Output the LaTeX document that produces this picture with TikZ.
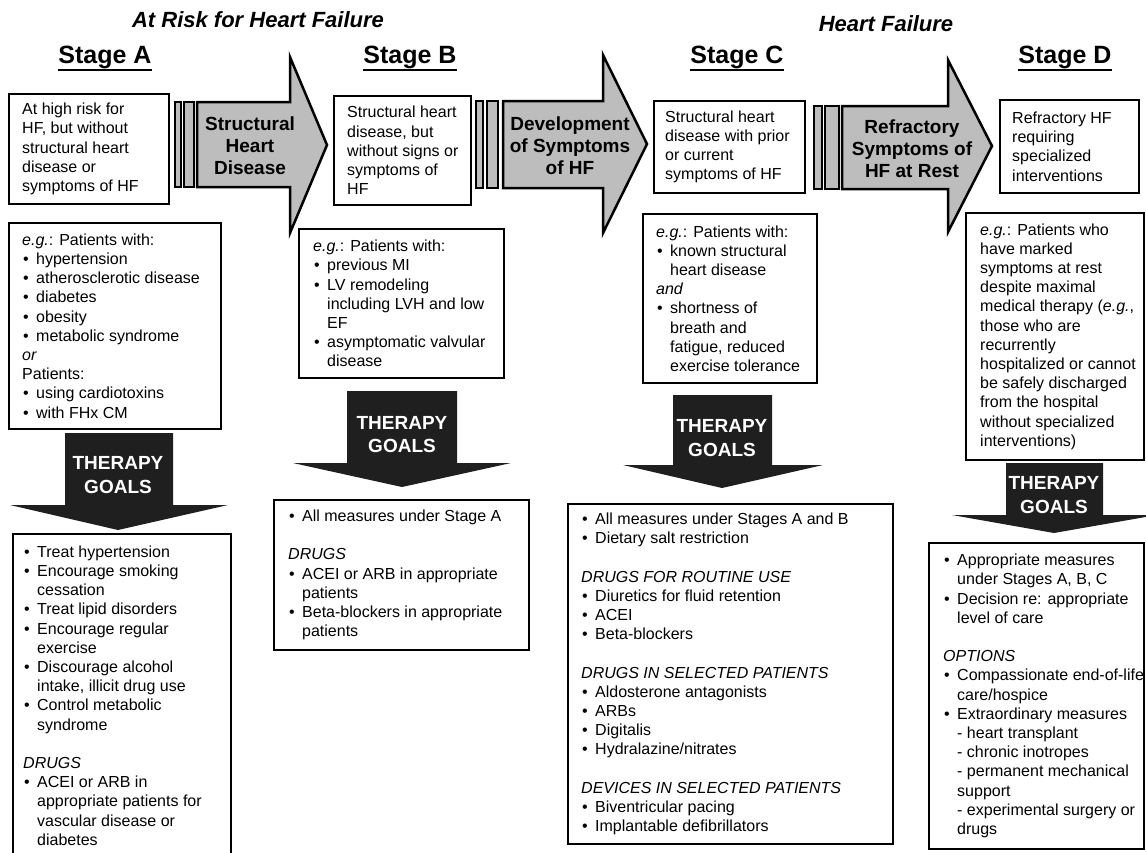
\documentclass[tikz,border=0pt]{standalone}
\usepackage{fontspec}
\setmainfont{Liberation Sans}
\definecolor{arrgray}{gray}{0.74}
\definecolor{goaldark}{gray}{0.12}
\newcommand{\bul}{\makebox[14pt][l]{\hspace{1pt}\textbullet}}
\newcommand{\indt}{\hspace*{14pt}}
\begin{document}
\begin{tikzpicture}[x=1pt,y=-1pt,
  body/.style={font=\fontsize{16}{19.2}\selectfont},
  box/.style={draw,line width=2pt,fill=white,inner sep=0pt,anchor=north west},
  intxt/.style={body,anchor=west,align=left,inner sep=0pt},
  stage/.style={font=\fontsize{25}{30}\selectfont\bfseries,anchor=base,inner sep=0pt},
  group/.style={font=\fontsize{22}{26}\selectfont\bfseries\itshape,anchor=base},
  arrtxt/.style={font=\fontsize{19}{22}\selectfont\bfseries,align=center},
  goaltxt/.style={font=\fontsize{19}{23.5}\selectfont\bfseries,align=center,text=white}]
\path[use as bounding box,fill=white] (0,0) rectangle (1146,852);
% sede sipky mezi stadii: dve listy + sipka
\foreach \pa/\pb/\pc/\pd/\s/\h/\tip/\yt/\yb/\ht/\hb in {175/181/184/194/197/290/327/102/187/57/233,
    476/483/487/498/503/603/647/101/188/55/233, 814/822/825/839/842/948/992/106/189/60/232} {
  \draw[line width=2pt,fill=arrgray] (\pa,\yt) rectangle (\pb,\yb);
  \draw[line width=2pt,fill=arrgray] (\pc,\yt) rectangle (\pd,\yb);
  \draw[line width=2.5pt,fill=arrgray] (\s,\yt) -- (\h,\yt) -- (\h,\ht) -- (\tip,{(\ht+\hb)/2})
    -- (\h,\hb) -- (\h,\yb) -- (\s,\yb) -- cycle;
}
\node[arrtxt] (sipAB) at (250,146) {Structural\\Heart\\Disease};
\node[arrtxt] (sipBC) at (570,146) {Development\\of Symptoms\\of HF};
\node[arrtxt] (sipCD) at (912,149) {Refractory\\Symptoms of\\HF at Rest};
% tmave sipky THERAPY GOALS
\foreach \sl/\sr/\st/\hy/\hl/\hr/\tx/\ty in {65/173/433/505/10/228/118/530, 347/457/391/463/293/511/402/487,
    673/772/395/465/623/823/722/488, 1006/1103/463/515/952/1157/1054/533}
  \fill[goaldark] (\sl,\st) -- (\sr,\st) -- (\sr,\hy) -- (\hr,\hy) -- (\tx,\ty) -- (\hl,\hy) -- (\sl,\hy) -- cycle;
\node[goaltxt] (goalA) at (118,475) {THERAPY\\GOALS};
\node[goaltxt] (goalB) at (402,434.5) {THERAPY\\GOALS};
\node[goaltxt] (goalC) at (722,438) {THERAPY\\GOALS};
\node[goaltxt] (goalD) at (1054,495) {THERAPY\\GOALS};
% ramecky
\foreach \n/\xa/\ya/\xb/\yb in {topA/8/93/168/203, topB/333/95/470/204, topC/653/100/804/192, topD/999/99/1138/192,
    egA/8/222/220/428, egB/298/228/503/377, egC/642/213/816/382, egD/965/212/1143/459,
    thA/12/533/230/856, thB/273/499/528/649, thC/567/503/892/843, thD/928/542/1143/848}
  \node[box,minimum width={\xb-\xa},minimum height={\yb-\ya}] (\n) at (\xa,\ya) {};
% texty v rameckach
\node[intxt] (topAt) at ([xshift=14pt]topA.west) {At high risk for\\HF, but without\\structural heart\\disease or\\symptoms of HF};
\node[intxt] (topBt) at ([xshift=14pt]topB.west) {Structural heart\\disease, but\\without signs or\\symptoms of\\HF};
\node[intxt] (topCt) at ([xshift=12pt]topC.west) {Structural heart\\disease with prior\\or current\\symptoms of HF};
\node[intxt] (topDt) at ([xshift=13pt]topD.west) {Refractory HF\\requiring\\specialized\\interventions};
\node[intxt] (egAt) at ([xshift=14pt]egA.west) {\textit{e.g.}: Patients with:\\ \bul hypertension\\ \bul atherosclerotic disease\\
  \bul diabetes\\ \bul obesity\\ \bul metabolic syndrome\\ \textit{or}\\ Patients:\\ \bul using cardiotoxins\\ \bul with FHx CM};
\node[intxt] (egBt) at ([xshift=15pt]egB.west) {\textit{e.g.}: Patients with:\\ \bul previous MI\\ \bul LV remodeling\\
  \indt including LVH and low\\ \indt EF\\ \bul asymptomatic valvular\\ \indt disease};
\node[intxt] (egCt) at ([xshift=14pt]egC.west) {\textit{e.g.}: Patients with:\\ \bul known structural\\ \indt heart disease\\
  \textit{and}\\ \bul shortness of\\ \indt breath and\\ \indt fatigue, reduced\\ \indt exercise tolerance};
\node[intxt] (egDt) at ([xshift=15pt]egD.west) {\textit{e.g.}: Patients who\\ have marked\\ symptoms at rest\\ despite maximal\\
  medical therapy (\textit{e.g.},\\ those who are\\ recurrently\\ hospitalized or cannot\\ be safely discharged\\
  from the hospital\\ without specialized\\ interventions)};
\node[intxt] (thAt) at ([xshift=11pt]thA.west) {\bul Treat hypertension\\ \bul Encourage smoking\\ \indt cessation\\
  \bul Treat lipid disorders\\ \bul Encourage regular\\ \indt exercise\\ \bul Discourage alcohol\\
  \indt intake, illicit drug use\\ \bul Control metabolic\\ \indt syndrome\\[19.2pt] \textit{DRUGS}\\
  \bul ACEI or ARB in\\ \indt appropriate patients for\\ \indt vascular disease or\\ \indt diabetes};
\node[intxt] (thBt) at ([xshift=15pt]thB.west) {\bul All measures under Stage A\\[19.2pt] \textit{DRUGS}\\
  \bul ACEI or ARB in appropriate\\ \indt patients\\ \bul Beta-blockers in appropriate\\ \indt patients};
\node[intxt] (thCt) at ([xshift=14pt]thC.west) {\bul All measures under Stages A and B\\ \bul Dietary salt restriction\\[19.2pt]
  \textit{DRUGS FOR ROUTINE USE}\\ \bul Diuretics for fluid retention\\ \bul ACEI\\ \bul Beta-blockers\\[19.2pt]
  \textit{DRUGS IN SELECTED PATIENTS}\\ \bul Aldosterone antagonists\\ \bul ARBs\\ \bul Digitalis\\ \bul Hydralazine/nitrates\\[19.2pt]
  \textit{DEVICES IN SELECTED PATIENTS}\\ \bul Biventricular pacing\\ \bul Implantable defibrillators};
\node[intxt] (thDt) at ([xshift=15pt]thD.west) {\bul Appropriate measures\\ \indt under Stages A, B, C\\
  \bul Decision re: appropriate\\ \indt level of care\\[19.2pt] \textit{OPTIONS}\\ \bul Compassionate end-of-life\\
  \indt care/hospice\\ \bul Extraordinary measures\\ \indt - heart transplant\\ \indt - chronic inotropes\\
  \indt - permanent mechanical\\ \indt support\\ \indt - experimental surgery or\\ \indt drugs};
% nadpisy
\node[group] (risk) at (258,27) {At Risk for Heart Failure};
\node[group] (hf) at (886,31) {Heart Failure};
\foreach \n/\x/\t in {stA/105/A, stB/410/B, stC/737/C, stD/1065/D} {
  \node[stage] (\n) at (\x,63) {Stage \t};
  \draw[line width=2pt] ([yshift=-1pt]\n.south west) -- ([yshift=-1pt]\n.south east);
}
\end{tikzpicture}
\end{document}
